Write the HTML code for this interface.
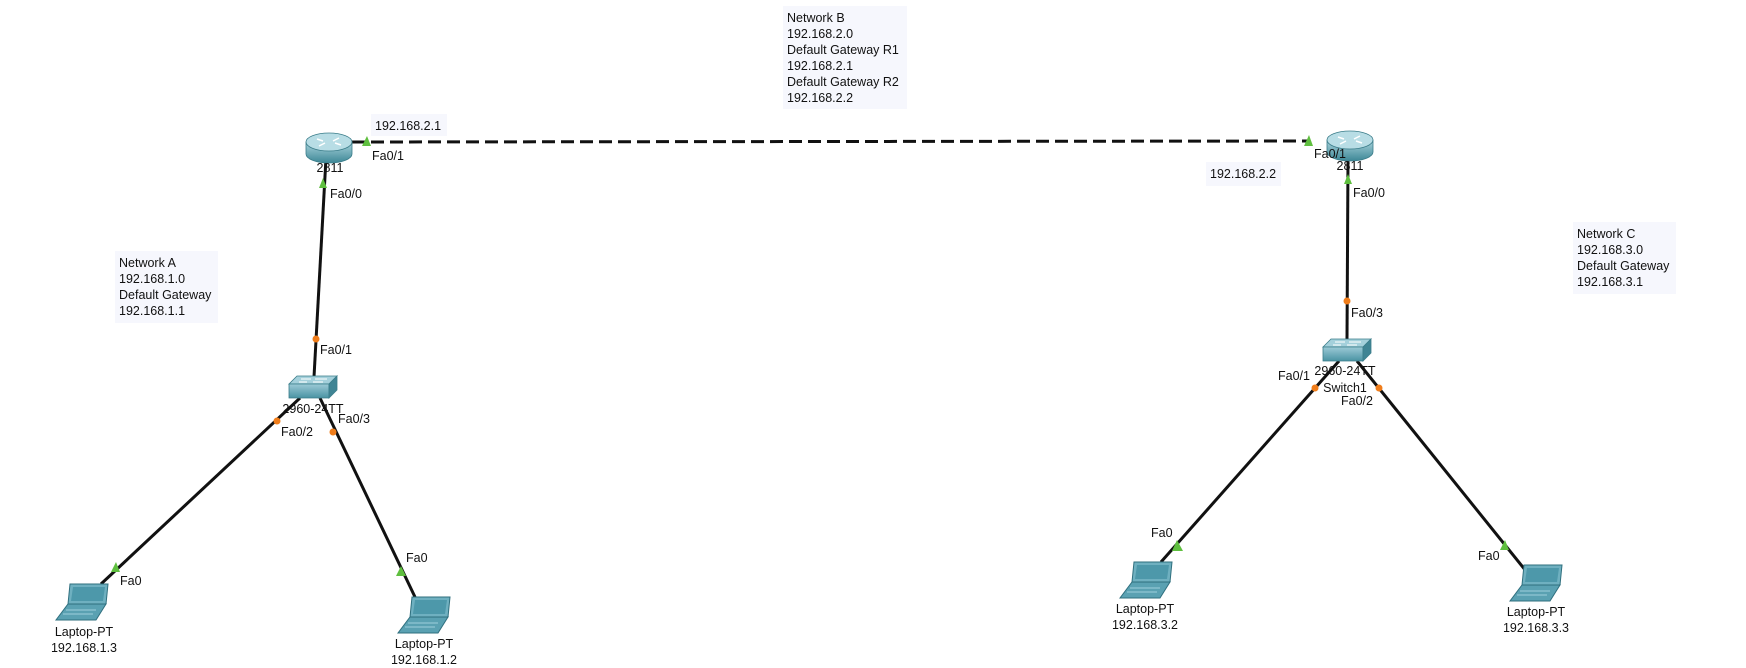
<!DOCTYPE html>
<html><head><meta charset="utf-8"><style>
html,body{margin:0;padding:0;background:#fff;}
svg{display:block;font-family:"Liberation Sans",Arial,sans-serif;}
text{font-size:12.5px;fill:#111;}
</style></head><body>
<svg width="1746" height="668" viewBox="0 0 1746 668">
<defs>
<linearGradient id="rg" x1="0" y1="0" x2="0" y2="1"><stop offset="0" stop-color="#a9d3dc"/><stop offset="1" stop-color="#3d8796"/></linearGradient>
<linearGradient id="sg" x1="0" y1="0" x2="0" y2="1"><stop offset="0" stop-color="#9ccad6"/><stop offset="1" stop-color="#4a93a3"/></linearGradient>
<g id="router">
<path d="M-23,-6 L-23,6 A23,9 0 0 0 23,6 L23,-6 Z" fill="url(#rg)" stroke="#3b7d8a" stroke-width="0.8"/>
<ellipse cx="0" cy="-6" rx="23" ry="9" fill="#b8dde5" stroke="#3b7d8a" stroke-width="0.8"/>
<path d="M-12,-9 l6,2 M12,-3 l-6,-2 M-10,-2 l6,-3 M10,-10 l-6,3" stroke="#fff" stroke-width="1.5"/>
</g>
<g id="switch">
<path d="M-22,-4 L-14,-12 L26,-12 L18,-4 Z" fill="#a4d0db" stroke="#3b7d8a" stroke-width="0.8"/>
<path d="M-22,-4 L18,-4 L18,10 L-22,10 Z" fill="url(#sg)" stroke="#3b7d8a" stroke-width="0.8"/>
<path d="M18,-4 L26,-12 L26,2 L18,10 Z" fill="#3f8494" stroke="#3b7d8a" stroke-width="0.8"/>
<path d="M-10,-9 h10 M4,-9 h12 M-12,-6 h8 M2,-6 h10" stroke="#fff" stroke-width="1"/>
</g>
<g id="laptop">
<path d="M-14,-18 L24,-18 L22,2 L-16,2 Z" fill="#6fb0c0" stroke="#2f6f7e" stroke-width="1"/>
<path d="M-11,-15 L21,-15 L19,-1 L-13,-1 Z" fill="#4d98aa"/>
<path d="M-16,2 L22,2 L12,18 L-28,18 Z" fill="#5aa1b2" stroke="#2f6f7e" stroke-width="1"/>
<path d="M-18,8 h30 M-21,12 h30" stroke="#9fd0dc" stroke-width="1"/>
</g>
</defs>

<!-- links -->
<line x1="352" y1="142" x2="1310" y2="141" stroke="#111" stroke-width="3" stroke-dasharray="13,6"/>
<line x1="326" y1="158" x2="314" y2="377" stroke="#111" stroke-width="3"/>
<line x1="300" y1="398" x2="101" y2="584" stroke="#111" stroke-width="3"/>
<line x1="320" y1="398" x2="415" y2="597" stroke="#111" stroke-width="3"/>
<line x1="1348" y1="160" x2="1347" y2="339" stroke="#111" stroke-width="3"/>
<line x1="1339" y1="361" x2="1161" y2="562" stroke="#111" stroke-width="3"/>
<line x1="1357" y1="361" x2="1526" y2="571" stroke="#111" stroke-width="3"/>

<!-- port markers -->
<g fill="#5fbf3f">
<path d="M362,146 L367,136 L371,146 Z"/><path d="M1304,146 L1309,135 L1313,146 Z"/>
<path d="M319,188 L323,178 L327,188 Z"/><path d="M1344,184 L1348,174 L1352,184 Z"/>
<path d="M111,572 L116,562 L120,572 Z"/><path d="M396,576 L401,566 L406,576 Z"/>
<path d="M1172,551 L1177,540 L1183,551 Z"/><path d="M1500,550 L1505,540 L1509,550 Z"/>
</g>
<g fill="#f07d1a">
<circle cx="316" cy="339" r="3.5"/><circle cx="277" cy="421" r="3.5"/><circle cx="333" cy="432" r="3.5"/>
<circle cx="1347" cy="301" r="3.5"/><circle cx="1315" cy="388" r="3.5"/><circle cx="1379" cy="388" r="3.5"/>
</g>

<!-- devices -->
<use href="#router" x="329" y="148"/>
<use href="#router" x="1350" y="146"/>
<use href="#switch" x="311" y="388"/>
<use href="#switch" x="1345" y="351"/>
<use href="#laptop" x="84" y="602"/>
<use href="#laptop" x="426" y="615"/>
<use href="#laptop" x="1148" y="580"/>
<use href="#laptop" x="1538" y="583"/>

<!-- note boxes -->
<g>
<rect x="783" y="6" width="124" height="103" fill="#f6f7fd"/>
<text x="787" y="22">Network B</text><text x="787" y="38">192.168.2.0</text><text x="787" y="54">Default Gateway R1</text>
<text x="787" y="70">192.168.2.1</text><text x="787" y="86">Default Gateway R2</text><text x="787" y="102">192.168.2.2</text>
</g>
<g>
<rect x="115" y="251" width="103" height="72" fill="#f6f7fd"/>
<text x="119" y="267">Network A</text><text x="119" y="283">192.168.1.0</text><text x="119" y="299">Default Gateway</text><text x="119" y="315">192.168.1.1</text>
</g>
<g>
<rect x="1573" y="222" width="103" height="72" fill="#f6f7fd"/>
<text x="1577" y="238">Network C</text><text x="1577" y="254">192.168.3.0</text><text x="1577" y="270">Default Gateway</text><text x="1577" y="286">192.168.3.1</text>
</g>
<g>
<rect x="371" y="114" width="76" height="22" fill="#f6f7fd"/><text x="375" y="130">192.168.2.1</text>
</g>
<g>
<rect x="1206" y="162" width="75" height="24" fill="#f6f7fd"/><text x="1210" y="178">192.168.2.2</text>
</g>

<!-- labels -->
<g>
<text x="372" y="160">Fa0/1</text><text x="330" y="198">Fa0/0</text><text x="320" y="354">Fa0/1</text>
<text x="338" y="423">Fa0/3</text><text x="281" y="436">Fa0/2</text>
<text x="120" y="585">Fa0</text><text x="406" y="562">Fa0</text>
<text x="1314" y="158">Fa0/1</text><text x="1353" y="197">Fa0/0</text><text x="1351" y="317">Fa0/3</text>
<text x="1278" y="380">Fa0/1</text><text x="1341" y="405">Fa0/2</text>
<text x="1151" y="537">Fa0</text><text x="1478" y="560">Fa0</text>
</g>
<g text-anchor="middle">
<text x="330" y="172">2811</text><text x="1350" y="170">2811</text>
<text x="313" y="413">2960-24TT</text><text x="1345" y="375">2960-24TT</text>
<text x="1345" y="392">Switch1</text>
<text x="84" y="636">Laptop-PT</text><text x="84" y="652">192.168.1.3</text>
<text x="424" y="648">Laptop-PT</text><text x="424" y="664">192.168.1.2</text>
<text x="1145" y="613">Laptop-PT</text><text x="1145" y="629">192.168.3.2</text>
<text x="1536" y="616">Laptop-PT</text><text x="1536" y="632">192.168.3.3</text>
</g>
</svg>
</body></html>
